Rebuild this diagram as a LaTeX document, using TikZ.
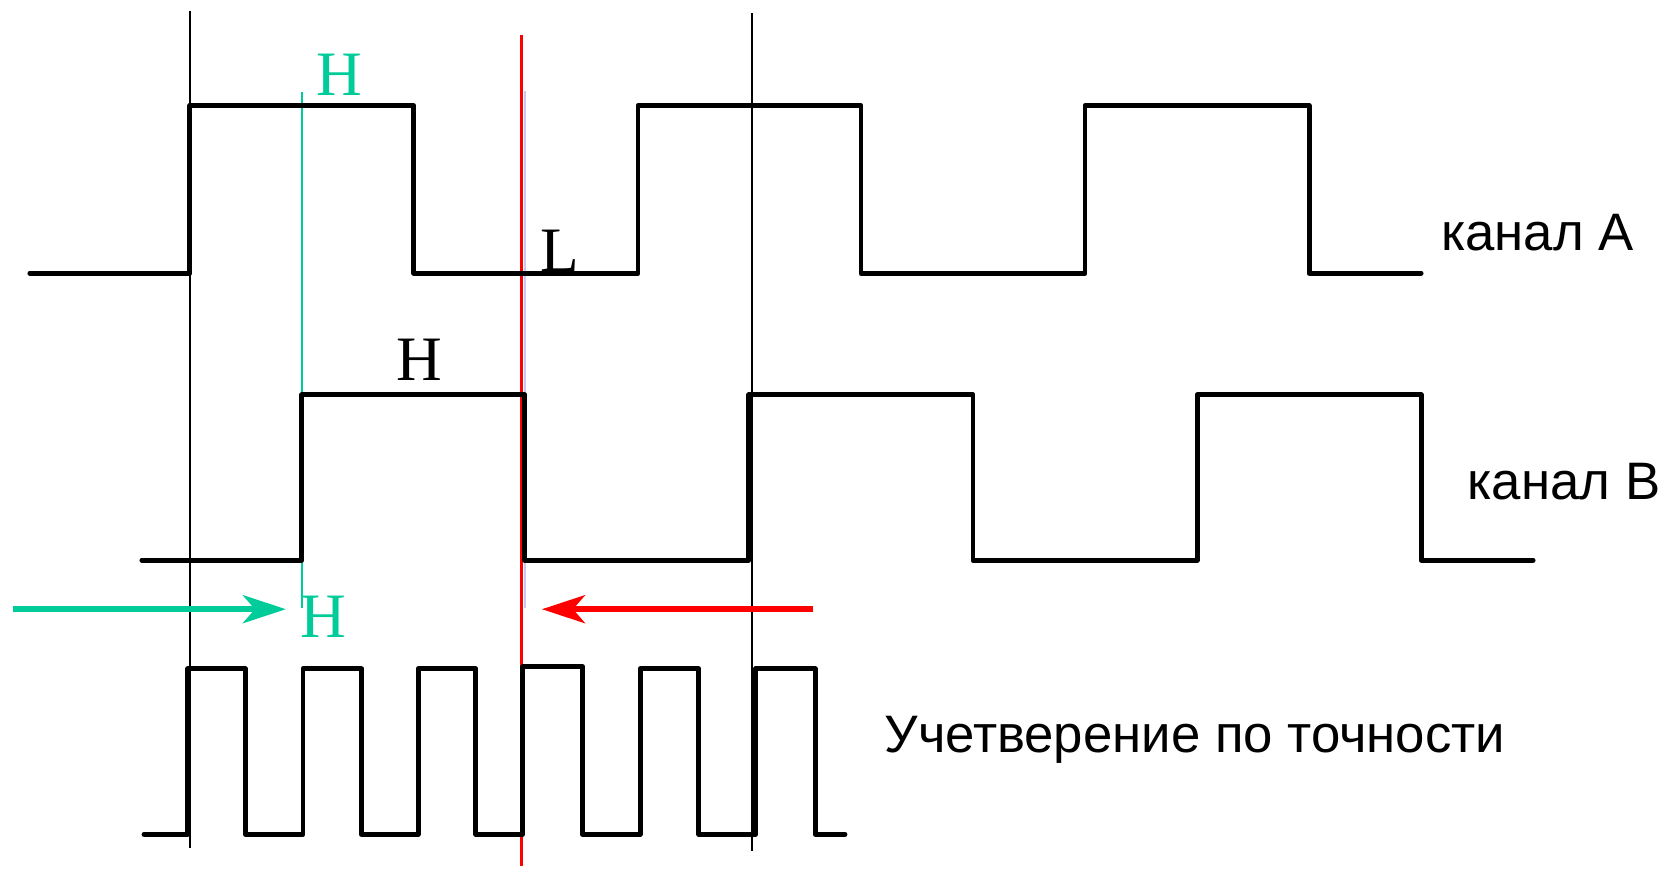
\documentclass[tikz,border=0pt]{standalone}
\usepackage{fontspec}
\setmainfont{Liberation Serif}
\newfontfamily\labelfont{Liberation Sans}
\usetikzlibrary{arrows.meta}
\definecolor{tealgreen}{RGB}{0,204,153}
\definecolor{lavender}{RGB}{200,200,240}
\begin{document}
\begin{tikzpicture}[x=0.10669mm, y=-0.10669mm,
  signal/.style={line width=1.4pt, line join=round, line cap=round},
  marker/.style={line width=0.6pt},
  levellabel/.style={font=\fontsize{18}{18}\selectfont},
  chanlabel/.style={font=\labelfont\fontsize{15}{15}\selectfont},
  pointer/.style={line width=1.6pt, -{Stealth[length=4.3mm, width=2.8mm, inset=1.2mm]}}]

\useasboundingbox (0,0) rectangle (1570,815);

% time markers
\begin{scope}[marker]
\draw (178,10) -- (178,795);
\draw (705,12) -- (705,798);
\draw [lavender] (492,85) -- (492,570);
\draw [red, line width=0.8pt] (489,33) -- (489,812);
\draw [tealgreen, line width=0.8pt] (283,86) -- (283,570);
\end{scope}

\begin{scope}[signal]
% channel A
\draw (28,256) -- (178,256) -- (178,99) -- (388,99) -- (388,256) -- (598,256) -- (598,99) -- (807,99) -- (807,256)
  -- (1017,256) -- (1017,99) -- (1227,99) -- (1227,256) -- (1332,256);
% channel B
\draw (133,525) -- (283,525) -- (283,370) -- (492,370) -- (492,525) -- (702,525) -- (702,370) -- (912,370) -- (912,525)
  -- (1122,525) -- (1122,370) -- (1332,370) -- (1332,525) -- (1437,525);
% x4 pulses
\draw (135,782) -- (176,782) -- (176,627) -- (230,627) -- (230,782) -- (284,782) -- (284,627) -- (339,627) -- (339,782)
  -- (392,782) -- (392,627) -- (446,627) -- (446,782) -- (490,782) -- (490,625) -- (546,625) -- (546,782)
  -- (600,782) -- (600,627) -- (655,627) -- (655,782) -- (708,782) -- (708,627) -- (764,627) -- (764,782) -- (792,782);
\end{scope}

% direction arrows
\coordinate (gstart) at (12,571);
\coordinate (gend) at (268,571);
\coordinate (rstart) at (762,571);
\coordinate (rend) at (508,571);
\draw [pointer, tealgreen] (gstart) -- (gend);
\draw [pointer, red] (rstart) -- (rend);

% level labels
\node [levellabel, text=tealgreen] (htop) at (318,70) {H};
\node [levellabel] (hmid) at (393,337) {H};
\node [levellabel] (lmid) at (525,235) {L};
\node [levellabel, text=tealgreen] (hlow) at (303,578) {H};

% channel labels
\node [chanlabel] (chA) at (1441,218) {канал A};
\node [chanlabel] (chB) at (1466,451) {канал B};
\node [chanlabel] (quad) at (1120,693) {Учетверение по точности};

\end{tikzpicture}
\end{document}
